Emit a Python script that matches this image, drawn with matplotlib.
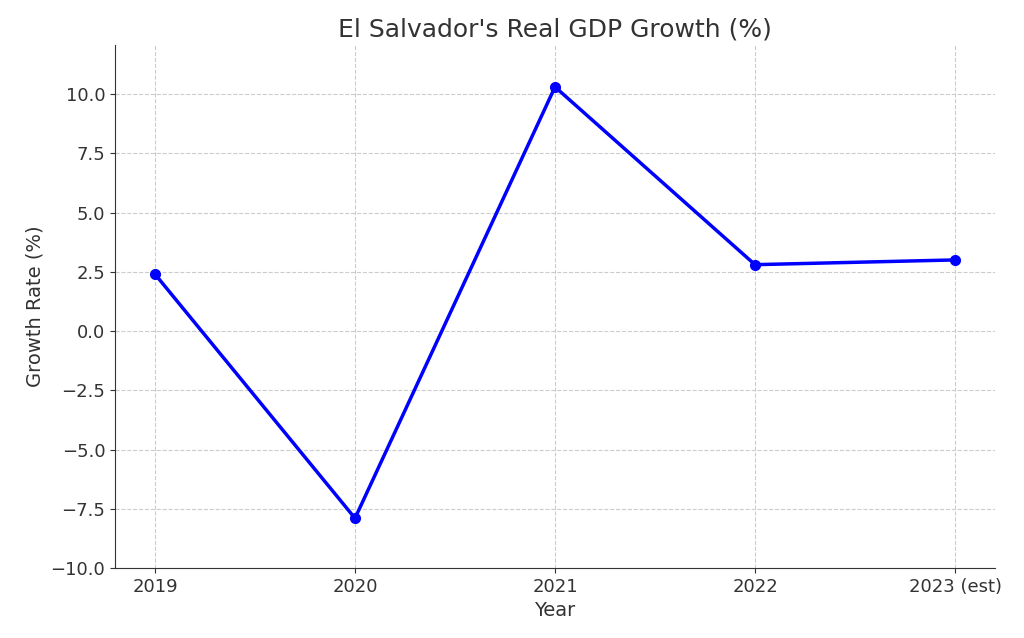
import matplotlib.pyplot as plt

years = ["2019", "2020", "2021", "2022", "2023 (est)"]
growth = [2.4, -7.9, 10.3, 2.8, 3.0]

fig = plt.figure(figsize=(10.24, 6.38), dpi=100)
ax = fig.add_axes([0.1123, 0.1097, 0.8594, 0.8198])

x = list(range(len(years)))
ax.plot(x, growth, color='#0000ff', marker='o', linewidth=2.5, markersize=7)

ax.set_xticks(x)
ax.set_xticklabels(years)
ax.set_xlim(-0.2, 4.2)
ax.set_ylim(-10, 12.07)
ax.set_yticks([-10, -7.5, -5, -2.5, 0, 2.5, 5, 7.5, 10])
ax.yaxis.set_major_formatter(plt.FuncFormatter(lambda v, p: f"{v:.1f}".replace('-', '\u2212')))

ax.grid(True, linestyle='--', color='#cccccc', linewidth=0.8)
ax.spines['top'].set_visible(False)
ax.spines['right'].set_visible(False)
ax.tick_params(labelsize=13, colors='#333333')
for s in ['left', 'bottom']:
    ax.spines[s].set_color('#333333')

ax.set_title("El Salvador's Real GDP Growth (%)", fontsize=18, color='#333333', pad=6)
ax.set_xlabel("Year", fontsize=14, color='#333333')
ax.set_ylabel("Growth Rate (%)", fontsize=14, color='#333333')

fig.savefig("out.png", dpi=100)
